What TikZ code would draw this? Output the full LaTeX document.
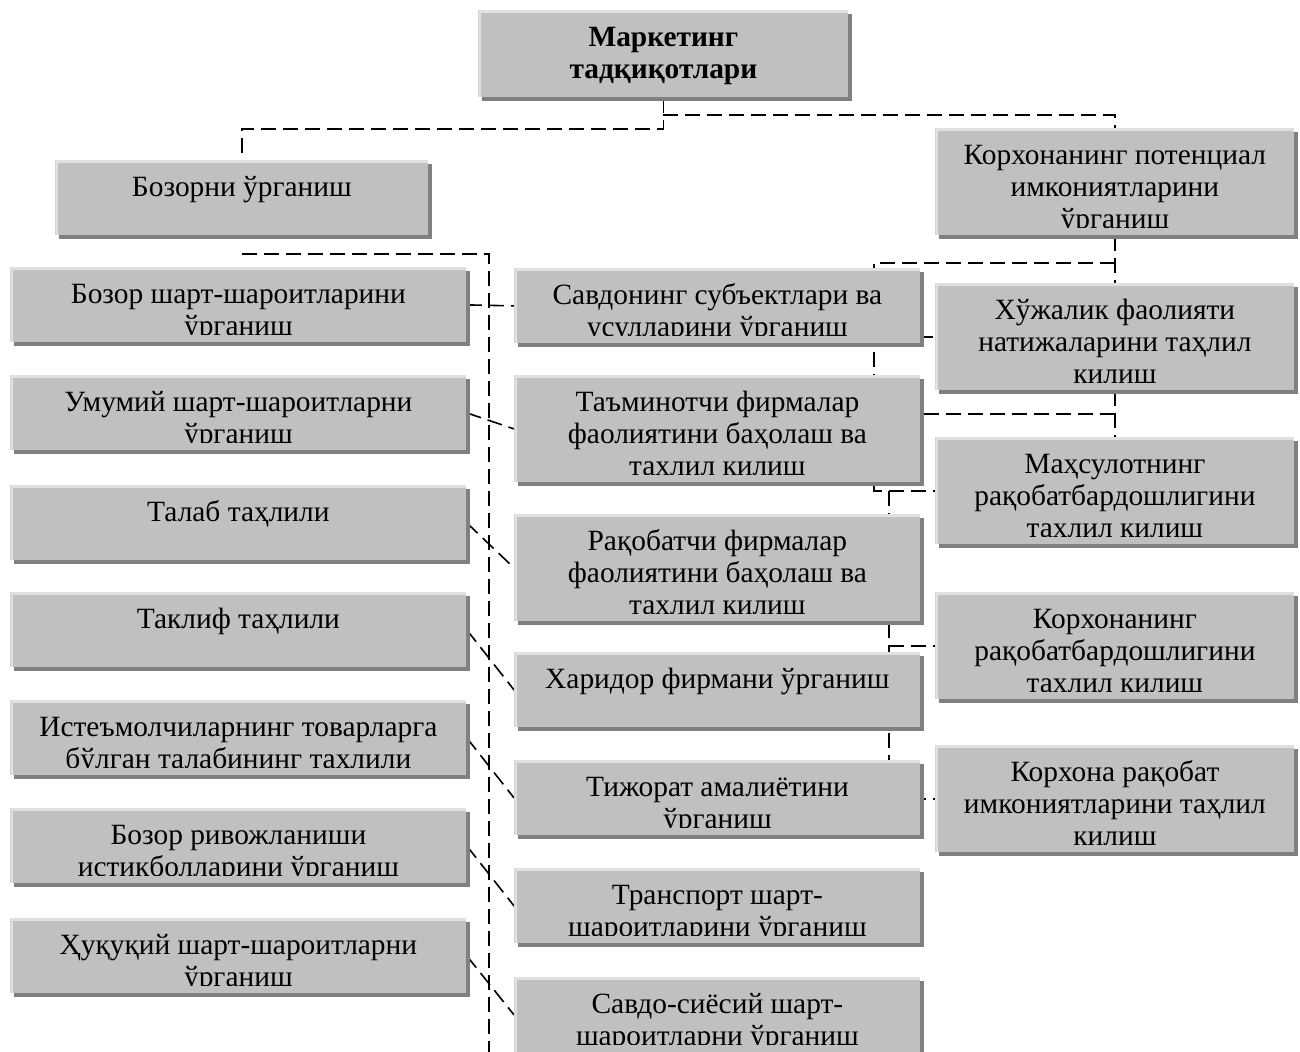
\documentclass[tikz,border=0pt]{standalone}
\usepackage{fontspec}
\setmainfont{Liberation Serif}
\usetikzlibrary{shadows,backgrounds,calc}
\definecolor{cellGray}{RGB}{192,192,192}
\definecolor{cellShade}{RGB}{128,128,128}
\definecolor{cellLight}{RGB}{224,224,224}

\tikzset{
  celltext/.style={font=\fontsize{14.7}{16}\selectfont, align=center, inner sep=0pt,
    minimum width=0pt, minimum height=0pt},
  cell/.style={anchor=north west, fill=cellGray, inner sep=0pt,
    drop shadow={shadow xshift=2pt, shadow yshift=-2pt, fill=cellShade, opacity=1},
    path picture={
      \draw[cellLight, line width=2.5pt] (path picture bounding box.south west) |- (path picture bounding box.north east);
      \clip ([yshift=4pt]path picture bounding box.south west) rectangle (path picture bounding box.north east);
      \node[celltext, anchor=north] at ([yshift=-6.8pt]path picture bounding box.north) {\strut #1};
    }},
  lcol/.style={minimum width=228pt},
  mcol/.style={minimum width=203pt},
  rcol/.style={minimum width=179.5pt},
  short/.style={minimum height=37.5pt},
  tall/.style={minimum height=53.5pt},
  conn/.style={black, line width=0.8pt, dash pattern=on 7.5pt off 3.5pt}
}

\begin{document}
\begin{tikzpicture}[x=0.5pt, y=-0.5pt]
    \useasboundingbox (0,0) rectangle (1300,1052);

    % top level
    \node[cell={\textbf{Маркетинг}\\\textbf{тадқиқотлари}}, minimum width=185pt, minimum height=43.5pt] (mt) at (478,10) {};
    \node[cell={Бозорни ўрганиш}, minimum width=186.5pt, short] (bz) at (55,160) {};
    \node[cell={Корхонанинг потенциал\\имкониятларини\\ўрганиш}, rcol, tall] (kp) at (935,128) {};

    % market column
    \node[cell={Бозор шарт-шароитларини\\ўрганиш}, lcol, short] (l1) at (10,267) {};
    \node[cell={Умумий шарт-шароитларни\\ўрганиш}, lcol, short] (l2) at (10,375) {};
    \node[cell={Талаб таҳлили}, lcol, short] (l3) at (10,485) {};
    \node[cell={Таклиф таҳлили}, lcol, short] (l4) at (10,592) {};
    \node[cell={Истеъмолчиларнинг товарларга\\бўлган талабининг таҳлили}, lcol, short] (l5) at (10,700) {};
    \node[cell={Бозор ривожланиши\\истиқболларини ўрганиш}, lcol, short] (l6) at (10,808) {};
    \node[cell={Ҳуқуқий шарт-шароитларни\\ўрганиш}, lcol, short] (l7) at (10,918) {};

    % trade column
    \node[cell={Савдонинг субъектлари ва\\усулларини ўрганиш}, mcol, short] (m1) at (514,268) {};
    \node[cell={Таъминотчи фирмалар\\фаолиятини баҳолаш ва\\таҳлил қилиш}, mcol, tall] (m2) at (514,375) {};
    \node[cell={Рақобатчи фирмалар\\фаолиятини баҳолаш ва\\таҳлил қилиш}, mcol, tall] (m3) at (514,514) {};
    \node[cell={Харидор фирмани ўрганиш}, mcol, short] (m4) at (514,652) {};
    \node[cell={Тижорат амалиётини\\ўрганиш}, mcol, short] (m5) at (514,760) {};
    \node[cell={Транспорт шарт-\\шароитларини ўрганиш}, mcol, short] (m6) at (514,868) {};
    \node[cell={Савдо-сиёсий шарт-\\шароитларни ўрганиш}, mcol, short] (m7) at (514,977) {};

    % firm column
    \node[cell={Хўжалик фаолияти\\натижаларини таҳлил\\қилиш}, rcol, tall] (r1) at (935,283) {};
    \node[cell={Маҳсулотнинг\\рақобатбардошлигини\\таҳлил қилиш}, rcol, tall] (r2) at (935,437) {};
    \node[cell={Корхонанинг\\рақобатбардошлигини\\таҳлил қилиш}, rcol, tall] (r3) at (935,592) {};
    \node[cell={Корхона рақобат\\имкониятларини таҳлил\\қилиш}, rcol, tall] (r4) at (935,745) {};

    \coordinate (lt) at (489,1052);
    \coordinate (ta) at (874,0);
    \coordinate (tb) at (889,0);
    \coordinate (r12) at ($(r1.south)!.5!(r2.north)$);

    \begin{scope}[on background layer]
        \draw[conn] (mt.south) -- ++(0,31) -| (bz.north);
        \draw[conn] ([yshift=-8.5pt]mt.south) -| (kp.north);
        \draw[conn] ([yshift=-9pt]bz.south) -| (lt);
        \foreach \i in {1,...,7}
            \draw[conn] (l\i.east) -- (m\i.west);

        \draw[conn] (kp.south) -- (r1.north);
        \draw[conn] ([yshift=-13.5pt]kp.south) -| (r2.west -| ta) -- (r2.west);
        \draw[conn] (r1.west -| ta) -- (r1.west);
        \draw[conn] (r1.south) -- (r2.north);
        \draw[conn] (r12) -- (r12 -| ta);
        \draw[conn] (r2.west -| tb) -- (r4.west -| tb) -- (r4.west);
        \draw[conn] (r3.west -| tb) -- (r3.west);
    \end{scope}
\end{tikzpicture}
\end{document}
